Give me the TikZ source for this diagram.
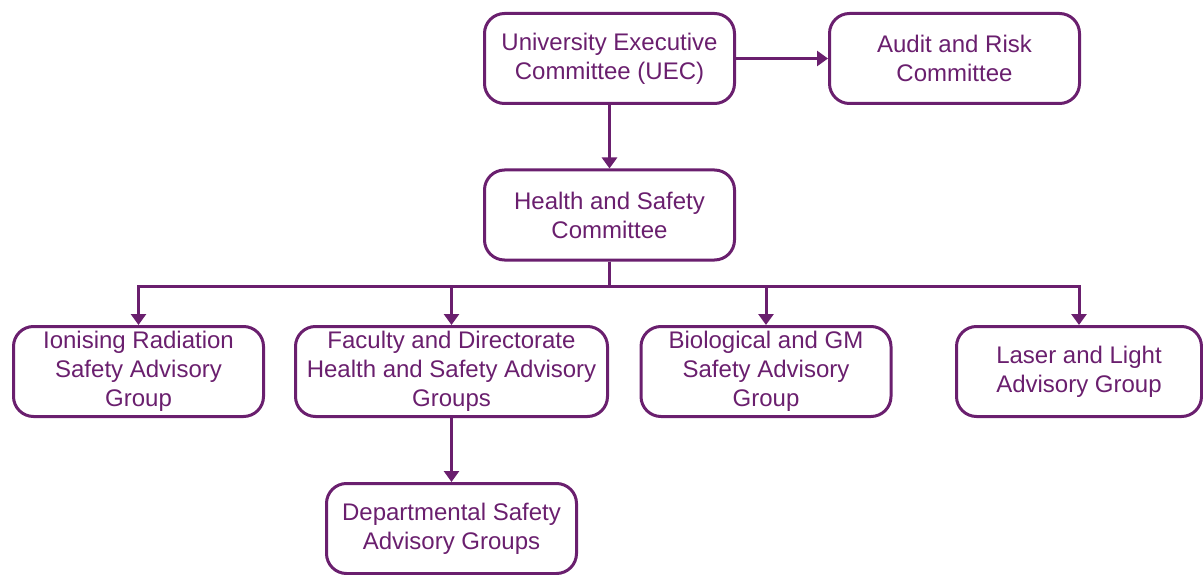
\documentclass[tikz,border=0pt]{standalone}
\usepackage{fontspec}
\setmainfont{Liberation Sans}
\usepackage{tikz}
\usetikzlibrary{arrows.meta,positioning}
\definecolor{uecpurple}{HTML}{6A1F6E}

\begin{document}
\begin{tikzpicture}[x=1pt,y=-1pt,
  box/.style={draw=uecpurple,line width=3pt,rounded corners=20pt,text=uecpurple,align=center,
    minimum width=250pt,minimum height=90pt,inner sep=0pt,font=\fontsize{24}{29}\selectfont},
  link/.style={draw=uecpurple,line width=3pt,-{Triangle[width=15pt,length=11pt]}}]
  \useasboundingbox (0,0) rectangle (1203,575);
  \node[box] (uec) at (609.5,58.5) {University Executive\\Committee (UEC)};
  \node[box] (audit) at (954.5,58.5) {Audit and Risk\\Committee};
  \node[box] (hs) at (609.5,215) {Health and Safety\\Committee};
  \node[box] (ion) at (138.5,371.5) {Ionising Radiation\\Safety Advisory\\Group};
  \node[box,minimum width=312pt] (fac) at (451.5,371.5) {Faculty and Directorate\\Health and Safety Advisory\\Groups};
  \node[box] (bio) at (766,371.5) {Biological and GM\\Safety Advisory\\Group};
  \node[box,minimum width=245pt] (las) at (1079,371.5) {Laser and Light\\Advisory Group};
  \node[box] (dep) at (451.5,528.5) {Departmental Safety\\Advisory Groups};
  \coordinate (bus) at (609.5,286.5);
  \draw[link] (uec) -- (audit);
  \draw[link] (uec) -- (hs);
  \foreach \n in {ion,fac,bio,las}
    \draw[link] (hs.south) -- (bus) -| (\n.north);
  \draw[link] (fac) -- (dep);
\end{tikzpicture}
\end{document}
